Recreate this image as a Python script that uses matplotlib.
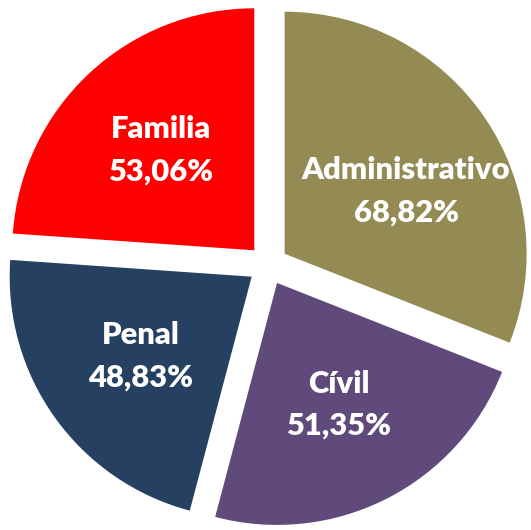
import numpy as np
import matplotlib
matplotlib.use("Agg")
import matplotlib.pyplot as plt

# données
categories = ["Administrativo", "Cívil", "Penal", "Familia"]
valeurs = [68.82, 51.35, 48.83, 53.06]
etiquettes = ["68,82%", "51,35%", "48,83%", "53,06%"]
couleurs = ["#948A54", "#604A7B", "#254061", "#FF0000"]

explosion = 0.083
rayon_label = 0.565

fig = plt.figure(figsize=(5.31, 5.30), dpi=100)
ax = fig.add_axes([0, 0, 1, 1])
ax.axis("off")

wedges, _ = ax.pie(valeurs, colors=couleurs, startangle=90, counterclock=False,
                   explode=[explosion] * len(valeurs), radius=1,
                   wedgeprops={"linewidth": 0})

for w, cat, pct in zip(wedges, categories, etiquettes):
    ang = np.deg2rad((w.theta1 + w.theta2) / 2)
    cx, cy = w.center
    if cat == "Administrativo":
        ang = ang - np.deg2rad(7)
    x = cx + rayon_label * np.cos(ang)
    y = cy + rayon_label * np.sin(ang)
    ax.text(x, y, cat + "\n" + pct, ha="center", va="center", color="white",
            fontsize=22.3, fontweight="heavy", family="Lato", linespacing=1.6)

# centre du camembert à (268, 265) px, rayon 242 px
ax.set_xlim(-268 / 242, (531 - 268) / 242)
ax.set_ylim(-(530 - 265) / 242, 265 / 242)
ax.set_aspect("auto")

fig.savefig("out.png", dpi=100)
